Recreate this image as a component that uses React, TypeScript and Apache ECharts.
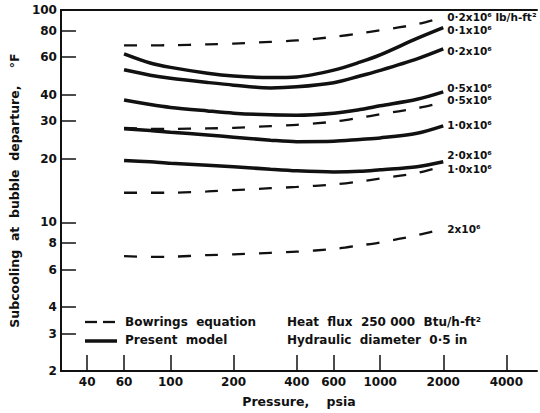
import React, { useEffect, useRef } from "react";
import * as echarts from "echarts";

const pressure = [60, 80, 100, 150, 200, 300, 400, 600, 800, 1000, 1500, 2000];
const bowring02 = [68.2, 68.2, 68.3, 68.9, 69.5, 70.8, 71.9, 74.7, 77.6, 80.3, 85.7, 92.5];
const model01 = [62.2, 56.3, 53.7, 50.4, 48.9, 48.1, 48.4, 52.1, 56.8, 61.5, 73.5, 82.6];
const model02 = [52.3, 49.3, 47.7, 45.6, 44.3, 43.0, 43.5, 45.5, 48.9, 52.0, 58.9, 65.6];
const model05 = [37.7, 35.9, 34.8, 33.5, 32.7, 32.1, 32.0, 32.7, 34.0, 35.4, 38.0, 41.2];
const bowring05 = [27.9, 27.6, 27.6, 27.7, 27.9, 28.4, 28.8, 29.8, 31.1, 32.3, 34.5, 36.8];
const model10 = [27.6, 27.1, 26.6, 25.8, 25.2, 24.4, 24.0, 24.1, 24.6, 25.0, 26.3, 28.5];
const model20 = [19.6, 19.3, 19.0, 18.6, 18.3, 17.8, 17.5, 17.3, 17.4, 17.7, 18.3, 19.3];
const bowring10 = [13.8, 13.8, 13.8, 14.0, 14.2, 14.5, 14.7, 15.1, 15.6, 16.1, 17.1, 18.4];
const bowring20 = [6.94, 6.89, 6.9, 7.02, 7.08, 7.2, 7.29, 7.5, 7.8, 8.06, 8.71, 9.34];

const xTicks = [40, 60, 100, 200, 400, 600, 1000, 2000, 4000];
const yTicks = [2, 3, 4, 6, 8, 10, 20, 30, 40, 60, 80, 100];

const FONT = "DejaVu Sans";
const INK = "#111";

function mk(name: string, data: number[], dashed: boolean, label: string, dy: number) {
  return {
    type: "line",
    name,
    data: pressure.map((p, i) => [p, data[i]]),
    showSymbol: false,
    symbol: "none",
    smooth: 0.3,
    silent: true,
    lineStyle: {
      color: INK,
      width: dashed ? 2.3 : 3.5,
      type: dashed ? [13, 14] : "solid",
      cap: "butt",
    },
    endLabel: {
      show: true,
      formatter: label,
      distance: 4,
      offset: [0, dy],
      color: INK,
      fontFamily: FONT,
      fontSize: 10.5,
      fontWeight: "bold",
    },
  };
}

export default function App() {
  const ref = useRef<HTMLDivElement>(null);
  useEffect(() => {
    const chart = echarts.init(ref.current!, null, { renderer: "svg" });
    const tickFont = { fontFamily: FONT, fontSize: 12, fontWeight: "bold", color: INK };
    chart.setOption({
      animation: false,
      backgroundColor: "#fff",
      grid: { left: 53, top: 10, right: 3, bottom: 35 },
      xAxis: [
        {
          type: "log",
          logBase: 10,
          min: 30,
          max: 5600,
          name: "Pressure,    psia",
          nameLocation: "middle",
          nameGap: 24,
          nameTextStyle: { ...tickFont, fontSize: 12.5 },
          axisLine: { show: true, lineStyle: { color: INK, width: 2 } },
          axisTick: { show: true, inside: true, length: 16, customValues: xTicks, lineStyle: { color: INK, width: 1.5 } },
          axisLabel: { show: true, margin: 5, customValues: xTicks, formatter: (v: number) => String(v), ...tickFont },
          minorTick: { show: false },
          splitLine: { show: false },
        },
        {
          type: "log",
          logBase: 10,
          min: 30,
          max: 5600,
          position: "top",
          axisLine: { show: true, lineStyle: { color: INK, width: 2 } },
          axisTick: { show: false },
          axisLabel: { show: false },
          splitLine: { show: false },
        },
      ],
      yAxis: {
        type: "log",
        logBase: 10,
        min: 2,
        max: 100,
        name: "Subcooling  at  bubble  departure,    °F",
        nameLocation: "middle",
        nameRotate: 90,
        nameGap: 36,
        nameTextStyle: { ...tickFont, fontSize: 12.5 },
        axisLine: { show: true, lineStyle: { color: INK, width: 2 } },
        axisTick: { show: true, inside: true, length: 15, customValues: yTicks, lineStyle: { color: INK, width: 1.5 } },
        axisLabel: { show: true, margin: 4, customValues: yTicks, formatter: (v: number) => String(v), ...tickFont },
        splitLine: { show: false },
      },
      series: [
        mk("Bowrings equation", bowring02, true, "0·2x10⁶ lb/h-ft²", 0),
        mk("Present model", model01, false, "0·1x10⁶", 2),
        mk("Present model", model02, false, "0·2x10⁶", 2),
        mk("Present model", model05, false, "0·5x10⁶", -4),
        mk("Bowrings equation", bowring05, true, "0·5x10⁶", -2),
        mk("Present model", model10, false, "1·0x10⁶", -1),
        mk("Present model", model20, false, "2·0x10⁶", -7),
        mk("Bowrings equation", bowring10, true, "1·0x10⁶", 3),
        mk("Bowrings equation", bowring20, true, "2x10⁶", 0),
      ],
      graphic: [
        { type: "line", shape: { x1: 85, y1: 322, x2: 97, y2: 322 }, style: { stroke: INK, lineWidth: 2.3 } },
        { type: "line", shape: { x1: 103, y1: 322, x2: 115, y2: 322 }, style: { stroke: INK, lineWidth: 2.3 } },
        { type: "line", shape: { x1: 85, y1: 341, x2: 117, y2: 341 }, style: { stroke: INK, lineWidth: 3.5 } },
        { type: "text", x: 125, y: 322, style: { text: "Bowrings  equation", fill: INK, font: `bold 12px "${FONT}"`, textVerticalAlign: "middle" } },
        { type: "text", x: 125, y: 340, style: { text: "Present  model", fill: INK, font: `bold 12px "${FONT}"`, textVerticalAlign: "middle" } },
        { type: "text", x: 287, y: 322, style: { text: "Heat  flux  250 000  Btu/h-ft²", fill: INK, font: `bold 12px "${FONT}"`, textVerticalAlign: "middle" } },
        { type: "text", x: 287, y: 340, style: { text: "Hydraulic  diameter  0·5 in", fill: INK, font: `bold 12px "${FONT}"`, textVerticalAlign: "middle" } },
      ],
    });
    return () => chart.dispose();
  }, []);
  return (
    <div
      ref={ref}
      style={{ position: "fixed", left: 0, top: 0, width: 540, height: 413, background: "#fff" }}
    />
  );
}
